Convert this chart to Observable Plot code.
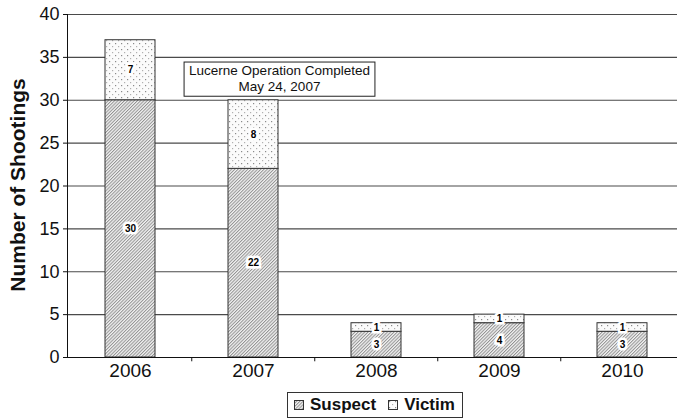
<!DOCTYPE html>
<html>
<head>
<meta charset="utf-8">
<script src="https://cdn.jsdelivr.net/npm/d3@7"></script>
<script src="https://cdn.jsdelivr.net/npm/@observablehq/plot@0.6"></script>
<style>
  html, body { margin: 0; padding: 0; background: #fff; }
  body { font-family: "Liberation Sans", Arial, sans-serif; }
  #wrap { position: relative; width: 677px; height: 419px; overflow: hidden; }
  #ytitle { position: absolute; left: 18px; top: 185px; transform: translate(-50%, -50%) rotate(-90deg);
    white-space: nowrap; font-weight: bold; font-size: 21px; color: #111; }
  #legend { position: absolute; left: 287px; top: 392px; width: 174px; height: 24px; border: 1px solid #333;
    background: #fff; display: flex; align-items: center; font-weight: bold; font-size: 17px; color: #111; }
  #legend .item { display: flex; align-items: center; margin-left: 6px; margin-right: 6px; }
  #legend svg { margin-right: 6px; }
</style>
</head>
<body>
<div id="wrap"></div>
<script>
// ---- data ----
const years = ["2006", "2007", "2008", "2009", "2010"];
const suspect = [30, 22, 3, 4, 3];
const victim = [7, 8, 1, 1, 1];
const types = ["Suspect", "Victim"];
const yTicks = [0, 5, 10, 15, 20, 25, 30, 35, 40];
const annotationText = ["Lucerne Operation Completed\nMay 24, 2007"];
const annotationYear = ["2007"];
const annotationValue = [32.6];
const yTitle = "Number of Shootings";

const rows = years.flatMap((yr, i) => [
  {year: yr, type: "Suspect", value: suspect[i]},
  {year: yr, type: "Victim", value: victim[i]}
]);

const step = (684.5 - 67) / years.length;

const chart = Plot.plot({
  width: 677,
  height: 419,
  marginLeft: 67,
  marginRight: 0,
  marginTop: 14,
  marginBottom: 62,
  style: {fontFamily: "'Liberation Sans', Arial, sans-serif", color: "#111", background: "transparent"},
  x: {domain: years, range: [67, 684.5], paddingInner: 0.595, paddingOuter: 0.2975},
  y: {domain: [0, 40], range: [357, 14]},
  color: {domain: types, range: ["url(#hatch)", "url(#dots)"]},
  marks: [
    Plot.ruleY(yTicks.filter(t => t > 0), {stroke: "#4a4a4a", strokeWidth: 1.2}),
    Plot.barY(rows, {x: "year", y: "value", fill: "type", stroke: "#333", strokeWidth: 1}),
    Plot.text(rows, Plot.stackY({x: "year", y: "value", text: "value", fontSize: 10, fontWeight: "bold",
      fill: "black", stroke: "white", strokeWidth: 5, strokeLinejoin: "miter"})),
    Plot.ruleY([0], {stroke: "#111", strokeWidth: 1.2}),
    Plot.ruleX(years.slice(1), {x: d => d, dx: -step / 2, y1: 0, y2: -0.5, stroke: "#111"}),
    Plot.frame({anchor: "left", stroke: "#111"}),
    Plot.axisY({ticks: yTicks, tickSize: 4, tickPadding: 4, fontSize: 18, label: null, tickFormat: d => d}),
    Plot.axisX({tickSize: 0, tickPadding: 6, fontSize: 19, label: null}),
    Plot.text(annotationText, {x: () => annotationYear[0], y: () => annotationValue[0], text: d => d,
      dx: 26, fontSize: 13.5, lineHeight: 1.2, fill: "#111", className: "annot"})
  ]
});

// pattern definitions
const ns = "http://www.w3.org/2000/svg";
const defs = document.createElementNS(ns, "defs");
defs.innerHTML = `
  <pattern id="hatch" patternUnits="userSpaceOnUse" width="2.3" height="2.3" patternTransform="rotate(45)">
    <rect width="2.3" height="2.3" fill="#f2f2f2"></rect>
    <line x1="0.5" y1="0" x2="0.5" y2="2.3" stroke="#929292" stroke-width="1"></line>
  </pattern>
  <pattern id="dots" patternUnits="userSpaceOnUse" width="6" height="6">
    <rect width="6" height="6" fill="#fbfbfb"></rect>
    <rect x="1" y="1" width="1.2" height="1.2" fill="#8a8a8a"></rect>
    <rect x="4" y="4" width="1.2" height="1.2" fill="#b0b0b0"></rect>
  </pattern>`;
chart.insertBefore(defs, chart.firstChild);

const wrap = document.getElementById("wrap");
wrap.appendChild(chart);

// annotation box
const annotG = chart.querySelector("g.annot");
if (annotG) {
  const t = annotG.querySelector("text");
  const b = t.getBBox();
  const r = document.createElementNS(ns, "rect");
  r.setAttribute("x", b.x - 5);
  r.setAttribute("y", b.y - 1);
  r.setAttribute("width", b.width + 10);
  r.setAttribute("height", b.height + 3);
  r.setAttribute("fill", "white");
  r.setAttribute("stroke", "#222");
  r.setAttribute("stroke-width", "1");
  const tr = t.getAttribute("transform");
  if (tr) r.setAttribute("transform", tr);
  annotG.insertBefore(r, t);
}

// y title
const yt = document.createElement("div");
yt.id = "ytitle";
yt.textContent = yTitle;
wrap.appendChild(yt);

// legend
const legend = document.createElement("div");
legend.id = "legend";
types.forEach((name, i) => {
  const item = document.createElement("div");
  item.className = "item";
  item.innerHTML = `<svg width="10" height="10"><rect x="0.5" y="0.5" width="9" height="9" fill="${i === 0 ? "url(#hatch)" : "url(#dots)"}" stroke="#333"></rect></svg><span>${name}</span>`;
  legend.appendChild(item);
});
wrap.appendChild(legend);
</script>
</body>
</html>
